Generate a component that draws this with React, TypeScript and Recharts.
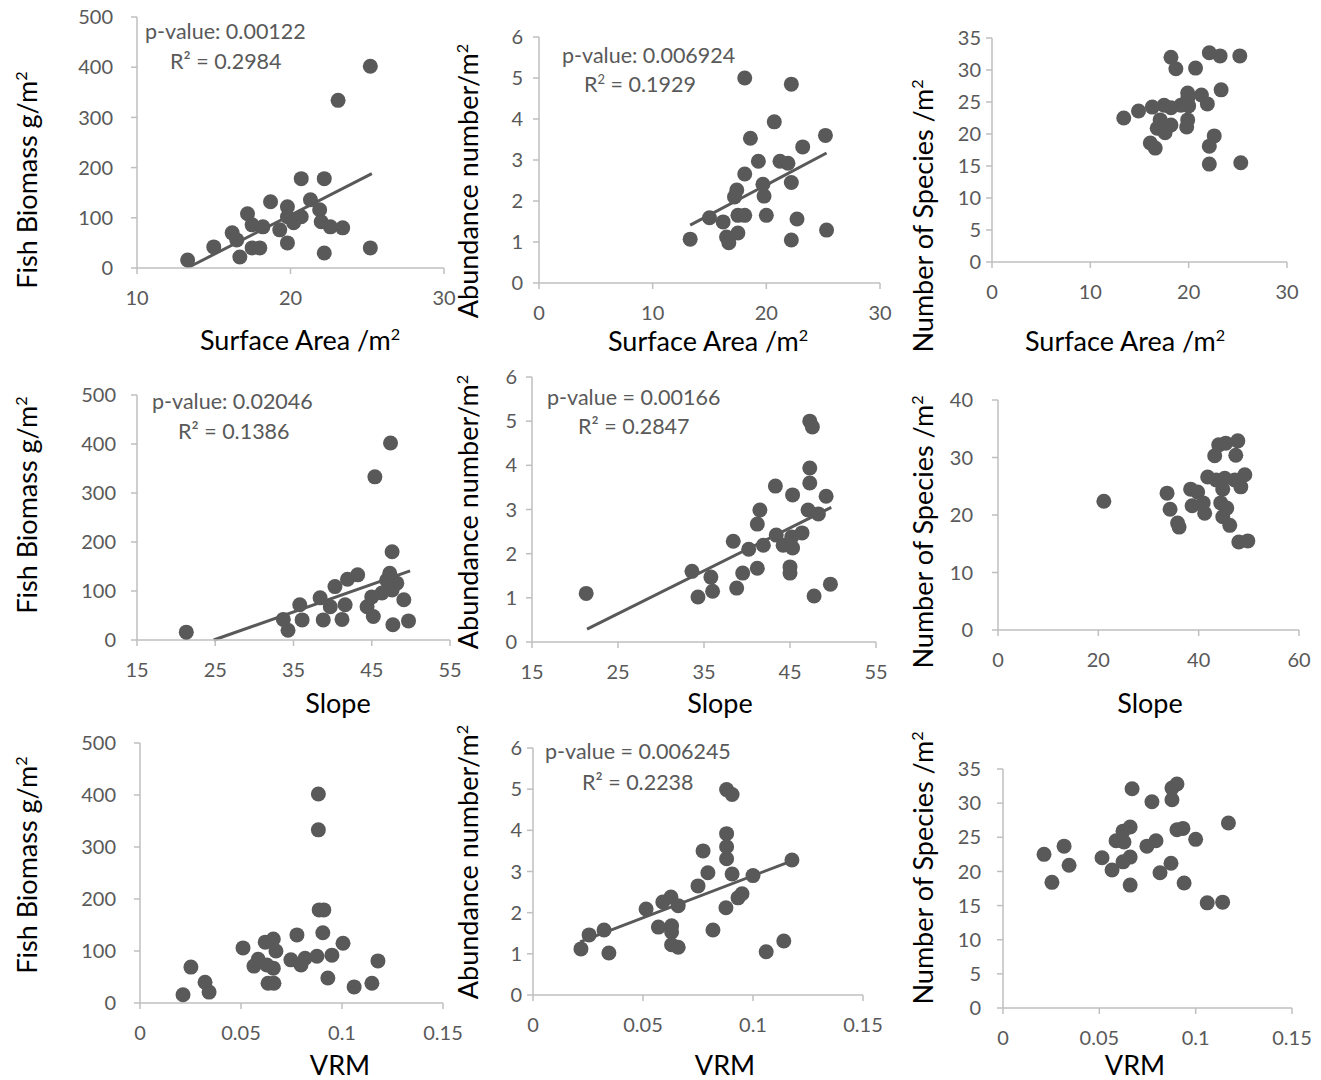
import React from "react";
import { ScatterChart, Scatter, XAxis, YAxis, ReferenceLine } from "recharts";

type Pt = [number, number];

// ---- Surface area panels ----
const surfaceBiomass: Pt[] = [
  [25.2, 402], [23.1, 334], [20.7, 178], [22.2, 178], [21.3, 136], [18.7, 132], [19.8, 122],
  [17.2, 108], [21.9, 116], [19.8, 102], [20.7, 102], [22.0, 92], [22.6, 82], [23.4, 80],
  [18.2, 82], [17.5, 86], [20.2, 90], [19.3, 76], [16.2, 70], [16.5, 56], [19.8, 50],
  [15.0, 42], [17.5, 40], [18.0, 40], [16.7, 22], [13.3, 16], [22.2, 30], [25.2, 40],
];
const surfaceBiomassTrend: Pt[] = [[13.4, 2], [25.3, 188]];

const surfaceAbundance: Pt[] = [
  [18.1, 5.0], [22.2, 4.85], [20.7, 3.93], [18.6, 3.53], [25.2, 3.6], [23.2, 3.32], [19.3, 2.97],
  [21.2, 2.97], [21.9, 2.92], [18.1, 2.66], [19.7, 2.41], [22.2, 2.45], [17.4, 2.27], [17.2, 2.1],
  [19.8, 2.12], [15.0, 1.59], [16.2, 1.49], [17.5, 1.65], [18.1, 1.65], [20.0, 1.65], [22.7, 1.56],
  [16.5, 1.12], [17.5, 1.22], [16.7, 0.98], [13.3, 1.07], [22.2, 1.05], [25.3, 1.29],
];
const surfaceAbundanceTrend: Pt[] = [[13.3, 1.41], [25.3, 3.17]];

const surfaceSpecies: Pt[] = [
  [18.2, 32.0], [18.7, 30.2], [20.7, 30.3], [22.1, 32.7], [23.2, 32.2], [25.2, 32.2], [23.3, 26.9],
  [19.9, 26.4], [21.3, 26.1], [21.9, 24.7], [20.0, 24.4], [19.2, 24.5], [19.9, 25.5], [17.5, 24.5],
  [18.2, 24.1], [16.3, 24.2], [14.9, 23.6], [13.4, 22.5], [17.1, 22.2], [18.2, 21.4], [16.8, 20.9],
  [17.6, 20.2], [19.9, 22.2], [19.8, 21.1], [16.1, 18.6], [16.6, 17.8], [22.6, 19.7], [22.1, 18.1],
  [22.1, 15.3], [25.3, 15.5],
];

// ---- Slope panels ----
const slopeBiomass: Pt[] = [
  [47.4, 402], [45.4, 333], [47.6, 180], [47.3, 136], [48.2, 116], [46.9, 122], [41.9, 124],
  [43.2, 133], [40.3, 109], [38.4, 86], [39.7, 68], [41.6, 72], [35.8, 72], [33.7, 42],
  [34.3, 20], [36.1, 41], [38.8, 41], [41.2, 42], [44.4, 68], [45.2, 48], [45.0, 88],
  [46.3, 96], [47.6, 102], [47.7, 31], [49.1, 82], [49.7, 39], [21.3, 16],
];
const slopeBiomassTrend: Pt[] = [[24.8, 0], [49.9, 141]];

const slopeAbundance: Pt[] = [
  [21.3, 1.1], [33.6, 1.6], [34.3, 1.02], [35.8, 1.47], [36.0, 1.15], [38.4, 2.28], [38.8, 1.22],
  [39.5, 1.56], [40.2, 2.1], [41.2, 2.67], [41.5, 2.99], [41.2, 1.67], [41.9, 2.19], [43.3, 3.53],
  [43.4, 2.42], [44.2, 2.19], [45.0, 1.7], [45.0, 1.56], [45.3, 3.33], [45.2, 2.38], [45.3, 2.13],
  [46.4, 2.47], [47.1, 2.99], [47.3, 5.0], [47.6, 4.87], [47.3, 3.94], [47.3, 3.6], [48.3, 2.9],
  [47.8, 1.04], [49.2, 3.3], [49.7, 1.31],
];
const slopeAbundanceTrend: Pt[] = [[21.4, 0.29], [49.8, 3.05]];

const slopeSpecies: Pt[] = [
  [21.1, 22.4], [33.7, 23.8], [34.3, 21.0], [35.8, 18.6], [36.1, 17.9], [38.4, 24.5], [38.7, 21.6],
  [39.8, 24.0], [41.2, 20.3], [40.9, 22.1], [41.8, 26.6], [43.5, 26.1], [43.2, 30.3], [44.0, 32.2],
  [45.4, 32.5], [47.8, 32.9], [47.4, 30.4], [45.2, 26.4], [44.8, 24.5], [44.4, 22.1], [45.6, 21.2],
  [44.8, 19.7], [46.2, 18.2], [48.0, 15.3], [49.8, 15.5], [48.4, 24.9], [49.2, 27.0], [47.2, 26.1],
];

// ---- VRM panels ----
const vrmBiomass: Pt[] = [
  [0.0883, 402], [0.0883, 333], [0.0887, 179], [0.091, 179], [0.0905, 135], [0.0777, 131],
  [0.1005, 115], [0.051, 106], [0.062, 117], [0.066, 123], [0.0673, 100], [0.0585, 84],
  [0.0564, 71], [0.066, 67], [0.0628, 73], [0.0747, 83], [0.0797, 73], [0.0817, 86],
  [0.0876, 90], [0.095, 92], [0.093, 48], [0.0634, 38], [0.0663, 38], [0.0252, 69],
  [0.0322, 40], [0.0342, 21], [0.0213, 16], [0.106, 31], [0.1148, 38], [0.1178, 81],
];

const vrmAbundance: Pt[] = [
  [0.0218, 1.12], [0.0255, 1.46], [0.0323, 1.58], [0.0345, 1.02], [0.0514, 2.09], [0.057, 1.65],
  [0.059, 2.26], [0.0627, 2.38], [0.066, 2.17], [0.063, 1.68], [0.063, 1.53], [0.063, 1.22],
  [0.066, 1.16], [0.075, 2.65], [0.0773, 3.5], [0.0795, 2.97], [0.0818, 1.58], [0.0877, 2.12],
  [0.088, 4.99], [0.0905, 4.87], [0.088, 3.92], [0.088, 3.6], [0.088, 3.31], [0.0905, 2.94],
  [0.0932, 2.36], [0.095, 2.46], [0.1, 2.9], [0.106, 1.05], [0.114, 1.31], [0.1177, 3.28],
];
const vrmAbundanceTrend: Pt[] = [[0.0214, 1.29], [0.1177, 3.26]];

const vrmSpecies: Pt[] = [
  [0.0213, 22.5], [0.0254, 18.4], [0.0317, 23.7], [0.0343, 20.9], [0.0514, 22.0], [0.0566, 20.2],
  [0.0587, 24.5], [0.0628, 24.3], [0.0623, 25.9], [0.066, 26.5], [0.067, 32.1], [0.0623, 21.4],
  [0.066, 22.1], [0.066, 18.0], [0.0747, 23.7], [0.0794, 24.5], [0.0773, 30.2], [0.0815, 19.8],
  [0.0872, 21.2], [0.0877, 30.5], [0.0877, 32.2], [0.0903, 32.8], [0.0903, 26.1], [0.0934, 26.3],
  [0.094, 18.3], [0.1, 24.7], [0.106, 15.4], [0.114, 15.5], [0.117, 27.1],
];

// ---- axis ticks ----
const surfaceTicksA = [10, 20, 30];
const surfaceTicksB = [0, 10, 20, 30];
const slopeTicksA = [15, 25, 35, 45, 55];
const slopeTicksB = [0, 20, 40, 60];
const vrmTicks = [0, 0.05, 0.1, 0.15];
const biomassTicks = [0, 100, 200, 300, 400, 500];
const abundanceTicks = [0, 1, 2, 3, 4, 5, 6];
const speciesTicks35 = [0, 5, 10, 15, 20, 25, 30, 35];
const speciesTicks40 = [0, 10, 20, 30, 40];

const GRAY = "#595959";
const AXIS = "#bfbfbf";
const FONT = "Lato, 'Open Sans', sans-serif";

const YW = 70;
const XH = 50;
const MT = 12;
const MR = 20;

const Dot = (p: any) => <circle cx={p.cx} cy={p.cy} r={7.5} fill={GRAY} />;

interface PanelProps {
  data: Pt[];
  trend?: Pt[];
  xTicks: number[];
  yTicks: number[];
  box: [number, number, number, number];
  yGap: number;
}

function Panel({ data, trend, xTicks, yTicks, box, yGap }: PanelProps) {
  const [x0, x1, y0, y1] = box;
  const width = x1 - x0 + YW + MR;
  const height = y1 - y0 + MT + XH;
  const pts = data.map(([x, y]) => ({ x, y }));
  const xDom: [number, number] = [xTicks[0], xTicks[xTicks.length - 1]];
  const yDom: [number, number] = [yTicks[0], yTicks[yTicks.length - 1]];
  return (
    <div style={{ position: "absolute", left: x0 - YW, top: y0 - MT }}>
      <ScatterChart width={width} height={height} margin={{ top: MT, right: MR, bottom: 0, left: 0 }}>
        <XAxis
          type="number"
          dataKey="x"
          domain={xDom}
          ticks={xTicks}
          height={XH}
          tickSize={6}
          tickMargin={17}
          axisLine={{ stroke: AXIS, strokeWidth: 1.5 }}
          tickLine={{ stroke: AXIS, strokeWidth: 1.5 }}
          tick={{ fill: GRAY, fontSize: 20, fontFamily: FONT }}
        />
        <YAxis
          type="number"
          dataKey="y"
          domain={yDom}
          ticks={yTicks}
          width={YW}
          tickSize={6}
          tickMargin={yGap - 6}
          axisLine={{ stroke: AXIS, strokeWidth: 1.5 }}
          tickLine={{ stroke: AXIS, strokeWidth: 1.5 }}
          tick={{ fill: GRAY, fontSize: 20, fontFamily: FONT }}
        />
        <Scatter data={pts} shape={Dot} isAnimationActive={false} />
        {trend && (
          <ReferenceLine
            segment={trend.map(([x, y]) => ({ x, y }))}
            stroke={GRAY}
            strokeWidth={3}
            ifOverflow="visible"
          />
        )}
      </ScatterChart>
    </div>
  );
}

const sup = (s: string) => <sup style={{ fontSize: "0.6em" }}>{s}</sup>;

function XTitle({ cx, cy, children }: { cx: number; cy: number; children: React.ReactNode }) {
  return (
    <div
      style={{
        position: "absolute", left: cx, top: cy, transform: "translate(-50%, -50%)",
        fontFamily: FONT, fontSize: 27, lineHeight: 1, color: "#000", whiteSpace: "nowrap",
      }}
    >
      {children}
    </div>
  );
}

function YTitle({ cx, cy, children }: { cx: number; cy: number; children: React.ReactNode }) {
  return (
    <div
      style={{
        position: "absolute", left: cx, top: cy, transform: "translate(-50%, -50%) rotate(-90deg)",
        fontFamily: FONT, fontSize: 27, lineHeight: 1, color: "#000", whiteSpace: "nowrap",
      }}
    >
      {children}
    </div>
  );
}

function Note({ x, cy, children }: { x: number; cy: number; children: React.ReactNode }) {
  return (
    <div
      style={{
        position: "absolute", left: x, top: cy, transform: "translateY(-50%)",
        fontFamily: FONT, fontSize: 21.5, lineHeight: 1, color: GRAY, whiteSpace: "nowrap",
      }}
    >
      {children}
    </div>
  );
}

const biomassTitle = <>Fish Biomass g/m{sup("2")}</>;
const abundanceTitle = <>Abundance number/m{sup("2")}</>;
const speciesTitle = <>Number of Species /m{sup("2")}</>;
const surfaceTitle = <>Surface Area /m{sup("2")}</>;

export default function App() {
  return (
    <div style={{ position: "absolute", left: 0, top: 0, width: 1321, height: 1080, background: "#fff", overflow: "hidden" }}>
      {/* row 1 */}
      <Panel data={surfaceBiomass} trend={surfaceBiomassTrend} xTicks={surfaceTicksA} yTicks={biomassTicks} box={[137, 444, 17, 268]} yGap={24} />
      <Panel data={surfaceAbundance} trend={surfaceAbundanceTrend} xTicks={surfaceTicksB} yTicks={abundanceTicks} box={[539, 880, 37, 283]} yGap={16} />
      <Panel data={surfaceSpecies} xTicks={surfaceTicksB} yTicks={speciesTicks35} box={[992, 1287, 38, 262]} yGap={11} />
      {/* row 2 */}
      <Panel data={slopeBiomass} trend={slopeBiomassTrend} xTicks={slopeTicksA} yTicks={biomassTicks} box={[137, 450, 395, 640]} yGap={21} />
      <Panel data={slopeAbundance} trend={slopeAbundanceTrend} xTicks={slopeTicksA} yTicks={abundanceTicks} box={[532, 876, 377, 642]} yGap={15} />
      <Panel data={slopeSpecies} xTicks={slopeTicksB} yTicks={speciesTicks40} box={[998, 1299, 400, 630]} yGap={25} />
      {/* row 3 */}
      <Panel data={vrmBiomass} xTicks={vrmTicks} yTicks={biomassTicks} box={[140, 443, 743, 1003]} yGap={24} />
      <Panel data={vrmAbundance} trend={vrmAbundanceTrend} xTicks={vrmTicks} yTicks={abundanceTicks} box={[533, 863, 748, 995]} yGap={11} />
      <Panel data={vrmSpecies} xTicks={vrmTicks} yTicks={speciesTicks35} box={[1003, 1292, 769, 1008]} yGap={22} />

      <Note x={145} cy={32}>p-value: 0.00122</Note>
      <Note x={170} cy={62}>R² = 0.2984</Note>
      <Note x={562} cy={56}>p-value: 0.006924</Note>
      <Note x={584} cy={84}>R{sup("2")} = 0.1929</Note>
      <Note x={152} cy={402}>p-value: 0.02046</Note>
      <Note x={178} cy={432}>R² = 0.1386</Note>
      <Note x={547} cy={398}>p-value = 0.00166</Note>
      <Note x={578} cy={427}>R² = 0.2847</Note>
      <Note x={545} cy={752}>p-value = 0.006245</Note>
      <Note x={582} cy={783}>R² = 0.2238</Note>

      <XTitle cx={300} cy={339}>{surfaceTitle}</XTitle>
      <XTitle cx={708} cy={340}>{surfaceTitle}</XTitle>
      <XTitle cx={1125} cy={340}>{surfaceTitle}</XTitle>
      <XTitle cx={338} cy={702}>Slope</XTitle>
      <XTitle cx={720} cy={702}>Slope</XTitle>
      <XTitle cx={1150} cy={702}>Slope</XTitle>
      <XTitle cx={340} cy={1064}>VRM</XTitle>
      <XTitle cx={725} cy={1064}>VRM</XTitle>
      <XTitle cx={1135} cy={1064}>VRM</XTitle>

      <YTitle cx={26} cy={180}>{biomassTitle}</YTitle>
      <YTitle cx={26} cy={505}>{biomassTitle}</YTitle>
      <YTitle cx={26} cy={865}>{biomassTitle}</YTitle>
      <YTitle cx={467} cy={181}>{abundanceTitle}</YTitle>
      <YTitle cx={467} cy={512}>{abundanceTitle}</YTitle>
      <YTitle cx={467} cy={862}>{abundanceTitle}</YTitle>
      <YTitle cx={922} cy={216}>{speciesTitle}</YTitle>
      <YTitle cx={922} cy={532}>{speciesTitle}</YTitle>
      <YTitle cx={922} cy={868}>{speciesTitle}</YTitle>
    </div>
  );
}
